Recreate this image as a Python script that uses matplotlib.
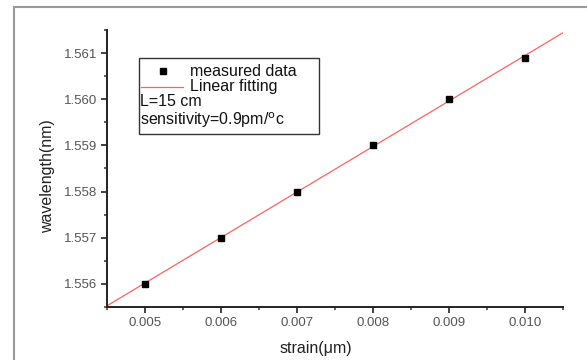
import numpy as np
import matplotlib
matplotlib.use("Agg")
import matplotlib.pyplot as plt
from matplotlib.ticker import MultipleLocator, FormatStrFormatter
from matplotlib.lines import Line2D

strain = [0.005, 0.006, 0.007, 0.008, 0.009, 0.010]
wavelength = [1.556, 1.557, 1.558, 1.559, 1.560, 1.5609]
x_ticks = [0.005, 0.006, 0.007, 0.008, 0.009, 0.010]
y_ticks = [1.556, 1.557, 1.558, 1.559, 1.560, 1.561]

plt.rcParams['font.family'] = ['Liberation Sans', 'DejaVu Sans']

fig = plt.figure(figsize=(5.87, 3.6), dpi=100)
W, H = 587, 360
# outer frame (left and top lines)
fig.add_artist(Line2D([14/W, 14/W], [0, 1 - 7/H], transform=fig.transFigure, color='#9a9a9a', lw=1.5))
fig.add_artist(Line2D([14/W, 1], [1 - 7/H, 1 - 7/H], transform=fig.transFigure, color='#9a9a9a', lw=1.5))

ax = fig.add_axes([107/W, 1 - 307/H, (563 - 107)/W, (307 - 30)/H])
ax.set_xlim(0.0045, 0.0105)
ax.set_ylim(1.5555, 1.5615)

coef = np.polyfit(strain, wavelength, 1)
xf = np.array([0.0045, 0.0105])
ax.plot(xf, np.polyval(coef, xf), color='#ff6060', lw=0.9, zorder=2)
ax.plot(strain, wavelength, 's', color='black', ms=5, zorder=3)

ax.spines['top'].set_visible(False)
ax.spines['right'].set_visible(False)
for s in ['left', 'bottom']:
    ax.spines[s].set_linewidth(1.4)
    ax.spines[s].set_color('#222222')

ax.set_xticks(x_ticks)
ax.set_yticks(y_ticks)
ax.xaxis.set_major_formatter(FormatStrFormatter('%.3f'))
ax.yaxis.set_major_formatter(FormatStrFormatter('%.3f'))
ax.xaxis.set_minor_locator(MultipleLocator(0.0005))
ax.yaxis.set_minor_locator(MultipleLocator(0.0005))
ax.tick_params(which='major', length=4, width=1.3, color='#333333', labelsize=9.5, labelcolor='#555555', pad=3)
ax.tick_params(which='minor', length=2.5, width=1.1, color='#333333')

ax.set_xlabel('strain(\u03bcm)', fontsize=11.5, color='#222222')
ax.xaxis.set_label_coords((316 - 107) / 456, -(348 - 307) / 277)
ax.xaxis.label.set_va('center')
ax.set_ylabel('wavelength(nm)', fontsize=11.5, color='#222222')
ax.yaxis.set_label_coords((48 - 107) / 456, (307 - 176) / 277)
ax.yaxis.label.set_va('center')

# legend box
lx0, ly0, lx1, ly1 = 139, 58, 319, 134
box = plt.Rectangle((lx0/W, 1 - ly1/H), (lx1 - lx0)/W, (ly1 - ly0)/H, transform=fig.transFigure,
                    fill=False, edgecolor='#333333', lw=1.0)
fig.add_artist(box)
fig.add_artist(Line2D([163/W], [1 - 71/H], marker='s', color='black', ms=5, transform=fig.transFigure))
fig.add_artist(Line2D([141/W, 183/W], [1 - 87/H, 1 - 87/H], color='#ff6060', lw=0.9, transform=fig.transFigure))
fs = 11.5
fig.text(190/W, 1 - 71/H, 'measured data', fontsize=fs, va='center', ha='left', color='#111111')
fig.text(190/W, 1 - 87/H, 'Linear fitting', fontsize=fs, va='center', ha='left', color='#111111')
fig.text(140/W, 1 - 102/H, 'L=15 cm', fontsize=fs, va='center', ha='left', color='#111111')
fig.text(140/W, 1 - 120/H, r'sensitivity=0.9pm/$^{\mathrm{o}}$c', fontsize=fs, va='center', ha='left', color='#111111')

fig.savefig('out.png', dpi=100)
